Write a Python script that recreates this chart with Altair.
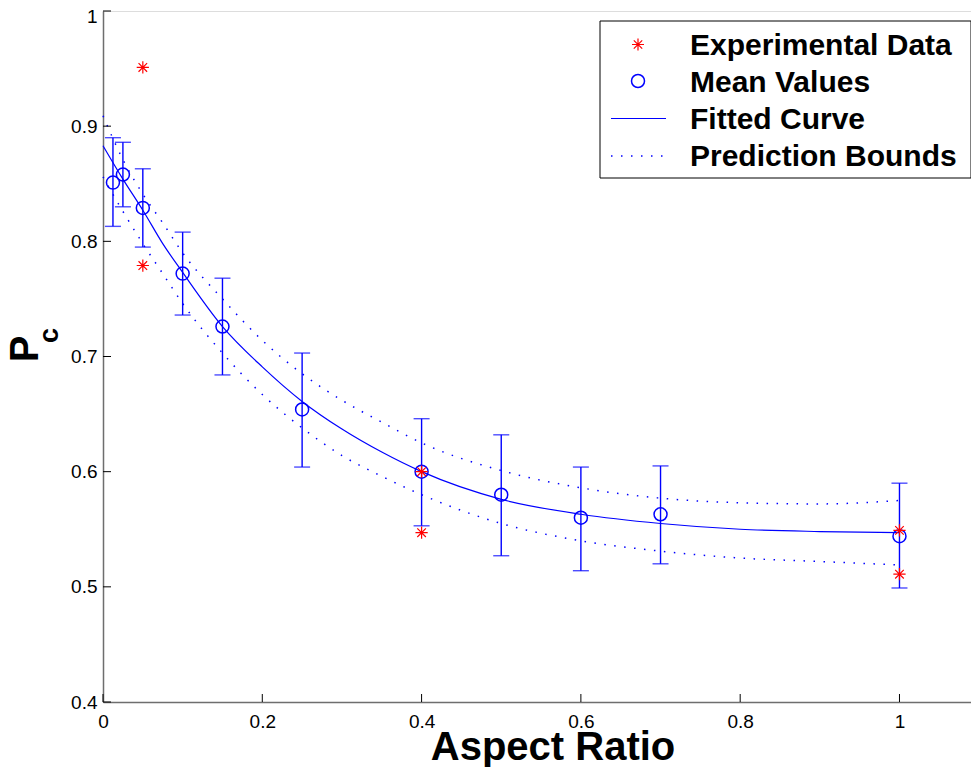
import altair as alt
import pandas as pd

# ---- data ----
fit_x = [0, 0.025, 0.05, 0.075, 0.1, 0.15, 0.2, 0.25, 0.3, 0.35, 0.4, 0.5, 0.6, 0.7, 0.8, 0.9, 1.0]
fit_y = [0.883, 0.854, 0.827, 0.798, 0.773, 0.726, 0.691, 0.661, 0.637, 0.617, 0.600, 0.576, 0.563, 0.555, 0.550, 0.548, 0.547]
upper_y = [0.909, 0.871, 0.841, 0.816, 0.790, 0.750, 0.714, 0.685, 0.662, 0.643, 0.625, 0.601, 0.586, 0.577, 0.573, 0.572, 0.575]
lower_y = [0.856, 0.826, 0.798, 0.772, 0.746, 0.703, 0.667, 0.638, 0.614, 0.596, 0.580, 0.555, 0.540, 0.531, 0.525, 0.522, 0.519]

mean_x = [0.0125, 0.025, 0.05, 0.1, 0.15, 0.25, 0.4, 0.5, 0.6, 0.7, 1.0]
mean_y = [0.851, 0.858, 0.829, 0.772, 0.726, 0.654, 0.600, 0.580, 0.560, 0.563, 0.544]
err_hi = [0.890, 0.886, 0.863, 0.808, 0.768, 0.703, 0.646, 0.632, 0.604, 0.605, 0.590]
err_lo = [0.813, 0.830, 0.795, 0.736, 0.684, 0.604, 0.553, 0.527, 0.514, 0.520, 0.499]

exp_x = [0.05, 0.05, 0.4, 0.4, 1.0, 1.0]
exp_y = [0.951, 0.779, 0.600, 0.547, 0.549, 0.511]

x_ticks = [0, 0.2, 0.4, 0.6, 0.8, 1]
y_ticks = [0.4, 0.5, 0.6, 0.7, 0.8, 0.9, 1.0]

legend_labels = ["Experimental Data", "Mean Values", "Fitted Curve", "Prediction Bounds"]

# ---- layout ----
W, H = 868, 691
X_MAX = 1.0898
FONT = "Liberation Sans"
BLUE = "#0000ff"
RED = "#ff0000"
STAR = "M0,-1L0,1M-1,0L1,0M-0.7,-0.7L0.7,0.7M-0.7,0.7L0.7,-0.7"

xs = alt.Scale(domain=[0, X_MAX], nice=False, zero=False)
ys = alt.Scale(domain=[0.4, 1.0], nice=False, zero=False)

xaxis = alt.Axis(values=x_ticks, format="~g", title=None, grid=False, ticks=False, tickSize=0,
                 labelPadding=10, labelFontSize=19, labelFont=FONT, labelColor="black",
                 domainColor="#6e6e6e", domainWidth=1.5, labelFlush=False)
yaxis = alt.Axis(values=y_ticks, format="~g", title=None, grid=False, ticks=False, tickSize=0,
                 labelPadding=6, labelFontSize=19, labelFont=FONT, labelColor="black",
                 domainColor="#6e6e6e", domainWidth=1.5, labelFlush=False,
                 labelOffset={"condition": {"test": "datum.value >= 0.99", "value": 5}, "value": 0})


def X(f):
    return alt.X(f, type="quantitative", scale=xs, axis=xaxis)


def Y(f):
    return alt.Y(f, type="quantitative", scale=ys, axis=yaxis)


curve_df = pd.DataFrame({"x": fit_x, "fit": fit_y, "upper": upper_y, "lower": lower_y})
mean_df = pd.DataFrame({"x": mean_x, "y": mean_y, "hi": err_hi, "lo": err_lo})
exp_df = pd.DataFrame({"x": exp_x, "y": exp_y})
xt_df = pd.DataFrame({"t": x_ticks})
yt_df = pd.DataFrame({"t": y_ticks})

base_c = alt.Chart(curve_df)
fit_line = base_c.mark_line(color=BLUE, strokeWidth=1.2, interpolate="monotone").encode(
    x=X("x"), y=Y("fit"))
up_line = base_c.mark_line(color=BLUE, strokeWidth=1.5, strokeDash=[1.5, 8.5], interpolate="monotone").encode(
    x=X("x"), y=Y("upper"))
lo_line = base_c.mark_line(color=BLUE, strokeWidth=1.5, strokeDash=[1.5, 8.5], interpolate="monotone").encode(
    x=X("x"), y=Y("lower"))

base_m = alt.Chart(mean_df)
err_rule = base_m.mark_rule(color=BLUE, strokeWidth=1.4).encode(
    x=X("x"), y=Y("lo"), y2="hi:Q")
cap_hi = base_m.mark_tick(color=BLUE, orient="horizontal", size=16, thickness=1.4).encode(
    x=X("x"), y=Y("hi"))
cap_lo = base_m.mark_tick(color=BLUE, orient="horizontal", size=16, thickness=1.4).encode(
    x=X("x"), y=Y("lo"))
means = base_m.mark_point(shape="circle", filled=False, size=169, color=BLUE, strokeWidth=1.5, opacity=1).encode(
    x=X("x"), y=Y("y"))

stars = alt.Chart(exp_df).mark_point(shape=STAR, filled=False, size=150, color=RED, strokeWidth=1.2, opacity=1).encode(
    x=X("x"), y=Y("y"))

# inward axis ticks
xt = alt.Chart(xt_df).mark_rule(color="black", strokeWidth=1).encode(
    x=X("t"), y=alt.value(H - 8), y2=alt.value(H))
yt = alt.Chart(yt_df).mark_rule(color="black", strokeWidth=1).encode(
    y=Y("t"), x=alt.value(0), x2=alt.value(8))

one = pd.DataFrame({"a": [0]})


def label(txt, x, y, size, angle=None, align="center"):
    kw = dict(font=FONT, fontSize=size, fontWeight="bold", align=align, baseline="alphabetic",
              color="black", text=txt)
    if angle is not None:
        kw["angle"] = angle
    return alt.Chart(one).mark_text(**kw).encode(x=alt.value(x), y=alt.value(y))


# axis titles
x_title = label("Aspect Ratio", 450, 749, 40)
y_title_p = label("P", -65, 338, 40, angle=270)
y_title_c = label("c", -45, 324.5, 27, angle=270)

# legend (manual)
lg_box = alt.Chart(one).mark_rect(fill="white", stroke="black", strokeWidth=1).encode(
    x=alt.value(497), x2=alt.value(868), y=alt.value(10), y2=alt.value(167))
lg_rows_y = [44, 81, 118, 155]
lg_texts = [label(t, 587, yy, 30, align="left") for t, yy in zip(legend_labels, lg_rows_y)]
lg_star = alt.Chart(one).mark_point(shape=STAR, filled=False, size=144, color=RED, strokeWidth=1.2, opacity=1).encode(
    x=alt.value(535), y=alt.value(33.5))
lg_circ = alt.Chart(one).mark_point(shape="circle", filled=False, size=169, color=BLUE, strokeWidth=1.5, opacity=1).encode(
    x=alt.value(535), y=alt.value(70))
lg_line = alt.Chart(one).mark_rule(color=BLUE, strokeWidth=1.2).encode(
    x=alt.value(508), x2=alt.value(563), y=alt.value(107.5))
lg_dot = alt.Chart(one).mark_rule(color=BLUE, strokeWidth=1.5, strokeDash=[1.5, 8.5]).encode(
    x=alt.value(508), x2=alt.value(563), y=alt.value(145))

chart = alt.layer(
    err_rule, cap_hi, cap_lo, fit_line, up_line, lo_line, means, stars, xt, yt,
    x_title, y_title_p, y_title_c,
    lg_box, *lg_texts, lg_star, lg_circ, lg_line, lg_dot,
).properties(
    width=W, height=H,
    autosize=alt.AutoSizeParams(type="none"),
    padding={"left": 95, "top": 3, "right": 0, "bottom": 65},
).configure_view(stroke=None).configure(background="white")

chart.save("out.html", embed_options={"renderer": "svg", "actions": False})
